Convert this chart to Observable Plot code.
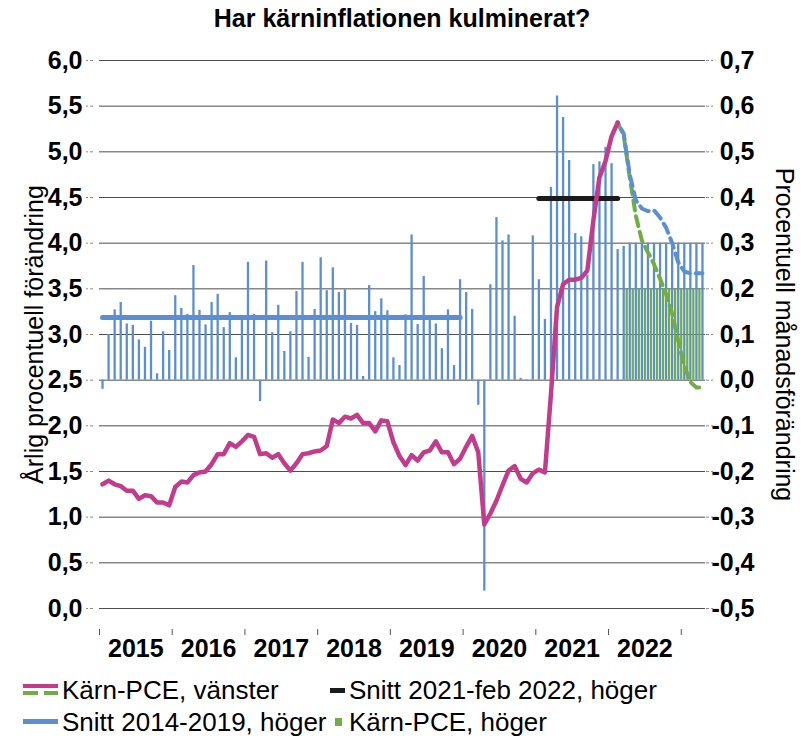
<!DOCTYPE html>
<html><head><meta charset="utf-8">
<script src="https://cdn.jsdelivr.net/npm/d3@7"></script>
<script src="https://cdn.jsdelivr.net/npm/@observablehq/plot@0.6"></script>
<style>
body{margin:0;background:#fff;font-family:"Liberation Sans",Arial,sans-serif;}
#wrap{position:relative;width:804px;height:740px;overflow:hidden;}
#title{position:absolute;left:0;top:0;width:804px;height:30px;text-align:center;font-weight:bold;font-size:25px;line-height:36px;}
#chart{position:absolute;left:0;top:30px;}
.leg{position:absolute;font-size:26px;line-height:30px;white-space:nowrap;color:#000;}
.sw{position:absolute;}
</style></head><body>
<div id="wrap">
<div id="title">Har kärninflationen kulminerat?</div>
<div id="chart"></div>
<div class="sw" style="left:23px;top:684px;width:35px;height:4px;background:#c33b8c"></div>
<div class="sw" style="left:23px;top:691px;width:15px;height:4px;background:#70ad47"></div>
<div class="sw" style="left:44px;top:691px;width:14px;height:4px;background:#70ad47"></div>
<div class="leg" style="left:62px;top:675px">Kärn-PCE, vänster</div>
<div class="sw" style="left:330px;top:688px;width:15px;height:5px;background:#1b1b1b"></div>
<div class="leg" style="left:349px;top:675px">Snitt 2021-feb 2022, höger</div>
<div class="sw" style="left:23px;top:719px;width:35px;height:5px;background:#5b8fd2"></div>
<div class="leg" style="left:62px;top:707px">Snitt 2014-2019, höger</div>
<div class="sw" style="left:335px;top:718px;width:7px;height:8px;background:#70ad47"></div>
<div class="leg" style="left:349px;top:707px">Kärn-PCE, höger</div>
</div>
<script>
// ---- data ----
const years = ["2015","2016","2017","2018","2019","2020","2021","2022"];
const leftTicks = [0,0.5,1,1.5,2,2.5,3,3.5,4,4.5,5,5.5,6];
const rightTicks = [-0.5,-0.4,-0.3,-0.2,-0.1,0,0.1,0.2,0.3,0.4,0.5,0.6,0.7];
const yearTicks = [-0.5,11.5,23.5,35.5,47.5,59.5,71.5,83.5,95.5];

// monthly change (right axis), Jan 2015 .. Jan 2022
const mmActual = [
 -0.020,0.100,0.154,0.170,0.123,0.120,0.088,0.072,0.129,0.014,0.106,0.065,
 0.185,0.157,0.144,0.251,0.153,0.121,0.170,0.188,0.115,0.148,0.049,0.132,
 0.258,0.144,-0.047,0.261,0.104,0.164,0.063,0.106,0.194,0.258,0.050,0.155,
 0.268,0.196,0.246,0.192,0.198,0.124,0.120,0.008,0.207,0.150,0.178,0.152,
 0.049,0.032,0.143,0.318,0.122,0.227,0.132,0.123,0.069,0.154,0.032,0.220,
 0.192,0.155,-0.055,-0.462,0.209,0.356,0.305,0.318,0.140,0.004,-0.003,0.316,
 0.220,0.133,0.422,0.622,0.575,0.481,0.321,0.314,0.230,0.472,0.478,0.510,
 0.474
];
// forecast monthly bars, blue from Feb 2022, green from Mar 2022
const mmHigh = [0.286,0.293,0.30,0.30,0.30,0.30,0.30,0.30,0.30,0.30,0.30,0.30,0.30,0.30,0.30];
const mmLow = [0.20,0.20,0.20,0.20,0.20,0.20,0.20,0.20,0.20,0.20,0.20,0.20,0.20];

// annual change (left axis), Jan 2015 .. Feb 2022
const yoyActual = [
 1.36,1.40,1.36,1.34,1.29,1.29,1.20,1.24,1.23,1.16,1.16,1.13,
 1.33,1.39,1.38,1.46,1.49,1.50,1.58,1.69,1.69,1.81,1.77,1.83,
 1.90,1.88,1.69,1.70,1.65,1.69,1.59,1.51,1.59,1.69,1.70,1.72,
 1.73,1.78,2.07,2.03,2.10,2.08,2.12,2.03,2.03,1.94,2.06,2.05,
 1.82,1.67,1.57,1.68,1.62,1.71,1.73,1.83,1.71,1.71,1.58,1.64,
 1.77,1.89,1.71,0.92,1.04,1.18,1.35,1.51,1.56,1.42,1.38,1.48,
 1.52,1.49,2.35,3.30,3.55,3.60,3.60,3.62,3.70,4.25,4.72,4.90,
 5.17,5.32
];
// forecasts of annual change, Feb 2022 .. Apr 2023
const yoyHigh = [5.32,5.20,4.75,4.47,4.38,4.35,4.36,4.28,4.17,4.00,3.79,3.69,3.67,3.67,3.67];
const yoyLow  = [5.32,5.18,4.72,4.30,4.03,3.90,3.77,3.61,3.44,3.23,2.93,2.66,2.48,2.42,2.42];

const avg1419 = 0.137;  // Snitt 2014-2019, höger
const avg2122 = 0.398;  // Snitt 2021-feb 2022, höger

// ---- helpers ----
const toLeft = r => (r + 0.5) * 5;   // right-axis value -> left-axis units
const fmt = d => d.toFixed(1).replace(".", ",");
const blue = "#5b8fd2", green = "#70ad47", pink = "#c33b8c", black = "#1b1b1b";

const bars = mmActual.map((v, i) => ({i, v}));
const high = mmHigh.map((v, k) => ({i: 85 + k, v}));
const low = mmLow.map((v, k) => ({i: 86 + k, v}));
const yoy = yoyActual.map((v, i) => ({i, v}));
const yHigh = yoyHigh.map((v, k) => ({i: 85 + k, v}));
const yLow = yoyLow.map((v, k) => ({i: 85 + k, v}));
const avgA = [{i: 0, v: avg1419}, {i: 59, v: avg1419}];
const avgB = [{i: 72, v: avg2122}, {i: 85, v: avg2122}];

const chart = Plot.plot({
  width: 804, height: 648,
  marginTop: 30, marginBottom: 70, marginLeft: 99, marginRight: 99,
  x: {domain: [-0.5, 99.5], axis: null},
  y: {domain: [0, 6], axis: null},
  style: {fontFamily: "'Liberation Sans', Arial, sans-serif", fontSize: "25px", fontWeight: "bold", color: "#000", background: "#fff", overflow: "visible"},
  marks: [
    Plot.ruleY(leftTicks, {stroke: "#4d4d4d", strokeWidth: 1}),
    Plot.ruleX(bars, {x: "i", y1: toLeft(0), y2: d => toLeft(d.v), stroke: blue, strokeWidth: 2.3}),
    Plot.ruleX(high, {x: "i", y1: toLeft(0), y2: d => toLeft(d.v), stroke: blue, strokeWidth: 2.3}),
    Plot.ruleX(low, {x: "i", y1: toLeft(0), y2: d => toLeft(d.v), stroke: green, strokeWidth: 2.3, dx: 3}),
    Plot.line(avgA, {x: "i", y: d => toLeft(d.v), stroke: blue, strokeWidth: 5}),
    Plot.line(avgB, {x: "i", y: d => toLeft(d.v), stroke: black, strokeWidth: 5}),
    Plot.line(yLow, {x: "i", y: "v", stroke: green, strokeWidth: 4, strokeDasharray: "10,6"}),
    Plot.line(yHigh, {x: "i", y: "v", stroke: blue, strokeWidth: 4, strokeDasharray: "10,6", strokeDashoffset: 8}),
    Plot.line(yoy, {x: "i", y: "v", stroke: pink, strokeWidth: 4.5}),
    Plot.axisY(leftTicks, {anchor: "left", label: null, tickSize: 7, tickPadding: 4, dx: -6, tickFormat: fmt, stroke: "#8a8a8a", strokeDasharray: "3,2", fill: "#000"}),
    Plot.axisY(leftTicks, {anchor: "right", label: null, tickSize: 7, tickFormat: () => "", stroke: "#8a8a8a", strokeDasharray: "3,2"}),
    Plot.text(rightTicks, {y: d => toLeft(d), text: d => fmt(d), frameAnchor: "right", dx: 49, textAnchor: "end", fill: "#000"}),
    Plot.axisX(yearTicks, {label: null, tickSize: 6, dy: 21, tickFormat: () => "", stroke: "#555"}),
    Plot.text(years, {x: (d, k) => 12 * k + 5.5, text: d => d, frameAnchor: "bottom", dy: 48, fill: "#000"}),
    Plot.text(["Årlig procentuell förändring"], {text: d => d, frameAnchor: "left", textAnchor: "middle", lineAnchor: "middle", rotate: -90, dx: -65, fontWeight: "normal", fill: "#000"}),
    Plot.text(["Procentuell månadsförändring"], {text: d => d, frameAnchor: "right", textAnchor: "middle", lineAnchor: "middle", rotate: 90, dx: 78, fontWeight: "normal", fill: "#000"})
  ]
});
document.getElementById("chart").appendChild(chart);
</script>
</body></html>
